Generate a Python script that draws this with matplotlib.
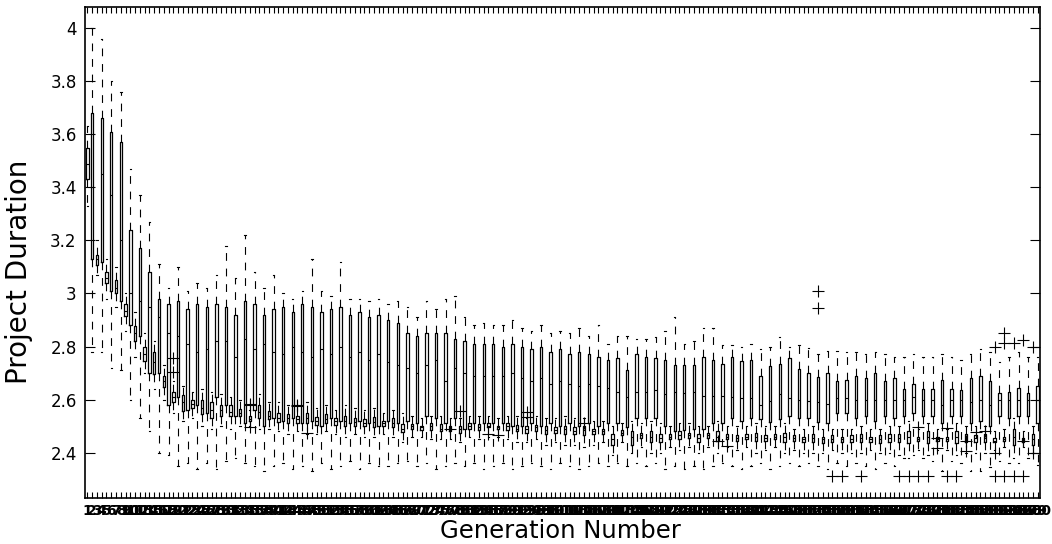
import matplotlib
matplotlib.use("Agg")
import matplotlib.pyplot as plt

# ── data: even generations (wide boxes) ─────────────────────────────────────
tall_q3 = [3.68, 3.66, 3.61, 3.57, 3.24, 3.17, 3.08, 2.98, 2.96, 2.97,
           2.94, 2.96, 2.95, 2.96, 2.95, 2.92, 2.97, 2.96, 2.92, 2.94,
           2.95, 2.93, 2.96, 2.95, 2.93, 2.94, 2.95, 2.92, 2.93, 2.91,
           2.92, 2.90, 2.89, 2.85, 2.84, 2.85, 2.85, 2.85, 2.83, 2.82,
           2.81, 2.81, 2.81, 2.80, 2.81, 2.80, 2.79, 2.80, 2.78, 2.79,
           2.77, 2.78, 2.77, 2.76, 2.75, 2.755, 2.71, 2.77, 2.76, 2.755,
           2.75, 2.73, 2.73, 2.73, 2.76, 2.75, 2.735, 2.76, 2.745, 2.75,
           2.69, 2.725, 2.735, 2.755, 2.715, 2.70, 2.685, 2.70, 2.67, 2.675,
           2.69, 2.68, 2.70, 2.67, 2.68, 2.64, 2.66, 2.64, 2.64, 2.675,
           2.64, 2.635, 2.68, 2.69, 2.67, 2.625, 2.63, 2.645, 2.625, 2.65]
tall_med = [3.40, 3.45, 3.37, 3.20, 3.00, 2.97, 2.95, 2.91, 2.85, 2.84,
            2.81, 2.78, 2.79, 2.82, 2.82, 2.76, 2.83, 2.79, 2.81, 2.78,
            2.77, 2.80, 2.78, 2.76, 2.79, 2.77, 2.80, 2.76, 2.78, 2.75,
            2.77, 2.74, 2.73, 2.72, 2.70, 2.73, 2.75, 2.67, 2.72, 2.70,
            2.69, 2.69, 2.69, 2.69, 2.70, 2.68, 2.67, 2.68, 2.66, 2.67,
            2.66, 2.65, 2.66, 2.65, 2.645, 2.63, 2.61, 2.63, 2.63, 2.635,
            2.62, 2.63, 2.625, 2.63, 2.615, 2.615, 2.615, 2.61, 2.605, 2.605,
            2.58, 2.595, 2.62, 2.605, 2.60, 2.595, 2.59, 2.585, 2.605, 2.605,
            2.60, 2.60, 2.60, 2.60, 2.60, 2.60, 2.61, 2.60, 2.60, 2.58,
            2.60, 2.60, 2.59, 2.60, 2.58, 2.60, 2.60, 2.60, 2.60, 2.60]
tall_q1 = [3.13, 3.12, 3.01, 2.97, 2.88, 2.84, 2.70, 2.70, 2.58, 2.61,
           2.56, 2.58, 2.55, 2.61, 2.58, 2.54, 2.51, 2.56, 2.50, 2.53,
           2.52, 2.53, 2.51, 2.52, 2.50, 2.53, 2.52, 2.51, 2.52, 2.51,
           2.50, 2.52, 2.51, 2.52, 2.51, 2.54, 2.53, 2.51, 2.53, 2.49,
           2.51, 2.51, 2.51, 2.51, 2.50, 2.50, 2.51, 2.50, 2.51, 2.50,
           2.51, 2.50, 2.51, 2.50, 2.51, 2.51, 2.495, 2.53, 2.53, 2.53,
           2.50, 2.48, 2.485, 2.49, 2.49, 2.51, 2.51, 2.53, 2.52, 2.53,
           2.525, 2.515, 2.525, 2.54, 2.53, 2.53, 2.515, 2.51, 2.55, 2.55,
           2.53, 2.54, 2.52, 2.54, 2.53, 2.54, 2.55, 2.54, 2.54, 2.51,
           2.54, 2.54, 2.51, 2.52, 2.50, 2.54, 2.53, 2.54, 2.54, 2.51]
tall_hi = [4.00, 3.96, 3.80, 3.76, 3.47, 3.37, 3.27, 3.11, 3.02, 3.10,
           3.01, 3.04, 3.02, 3.07, 3.18, 3.06, 3.22, 3.08, 3.02, 3.07,
           3.00, 2.98, 3.01, 3.13, 3.01, 2.99, 3.12, 2.98, 2.98, 2.97,
           2.98, 2.96, 2.97, 2.95, 2.91, 2.97, 2.94, 2.98, 2.99, 2.91,
           2.88, 2.89, 2.88, 2.88, 2.90, 2.87, 2.86, 2.88, 2.85, 2.86,
           2.85, 2.87, 2.84, 2.88, 2.81, 2.84, 2.84, 2.83, 2.83, 2.835,
           2.86, 2.91, 2.81, 2.82, 2.87, 2.87, 2.805, 2.805, 2.80, 2.81,
           2.79, 2.80, 2.835, 2.80, 2.805, 2.795, 2.77, 2.785, 2.785, 2.78,
           2.78, 2.77, 2.78, 2.77, 2.76, 2.76, 2.77, 2.76, 2.76, 2.77,
           2.76, 2.75, 2.77, 2.79, 2.78, 2.74, 2.76, 2.78, 2.76, 2.76]
tall_lo = [2.78, 2.78, 2.72, 2.71, 2.60, 2.53, 2.48, 2.40, 2.39, 2.35,
           2.36, 2.34, 2.36, 2.34, 2.37, 2.38, 2.36, 2.35, 2.33, 2.35,
           2.36, 2.34, 2.35, 2.33, 2.36, 2.34, 2.35, 2.37, 2.34, 2.36,
           2.35, 2.35, 2.36, 2.37, 2.35, 2.36, 2.34, 2.35, 2.36, 2.35,
           2.36, 2.34, 2.35, 2.36, 2.34, 2.35, 2.36, 2.35, 2.34, 2.36,
           2.35, 2.34, 2.35, 2.36, 2.35, 2.36, 2.35, 2.36, 2.35, 2.36,
           2.34, 2.35, 2.34, 2.35, 2.34, 2.35, 2.36, 2.35, 2.34, 2.35,
           2.36, 2.34, 2.35, 2.36, 2.35, 2.36, 2.35, 2.34, 2.36, 2.35,
           2.36, 2.35, 2.34, 2.36, 2.35, 2.38, 2.39, 2.38, 2.37, 2.33,
           2.37, 2.36, 2.33, 2.33, 2.345, 2.37, 2.36, 2.36, 2.38, 2.355]

# ── data: odd generations (narrow boxes) ────────────────────────────────────
small_q3 = [3.55, 3.146, 3.08, 3.05, 2.96, 2.877, 2.80, 2.778, 2.69, 2.63,
            2.616, 2.60, 2.60, 2.59, 2.58, 2.578, 2.563, 2.538, 2.58, 2.556,
            2.55, 2.545, 2.54, 2.55, 2.535, 2.545, 2.53, 2.54, 2.53, 2.525,
            2.535, 2.52, 2.53, 2.507, 2.507, 2.50, 2.51, 2.507, 2.50, 2.50,
            2.51, 2.507, 2.51, 2.50, 2.51, 2.505, 2.50, 2.505, 2.50, 2.495,
            2.50, 2.495, 2.50, 2.49, 2.488, 2.47, 2.485, 2.48, 2.475, 2.48,
            2.47, 2.47, 2.48, 2.475, 2.47, 2.475, 2.48, 2.47, 2.465, 2.47,
            2.475, 2.465, 2.47, 2.475, 2.465, 2.46, 2.47, 2.46, 2.465, 2.46,
            2.465, 2.47, 2.46, 2.465, 2.47, 2.47, 2.482, 2.46, 2.48, 2.46,
            2.46, 2.48, 2.47, 2.465, 2.47, 2.455, 2.46, 2.49, 2.455, 2.47]
small_med = [3.49, 3.13, 3.06, 3.02, 2.935, 2.85, 2.77, 2.74, 2.67, 2.61,
             2.59, 2.585, 2.57, 2.56, 2.56, 2.555, 2.55, 2.528, 2.555, 2.54,
             2.53, 2.53, 2.525, 2.53, 2.52, 2.525, 2.52, 2.52, 2.515, 2.51,
             2.515, 2.51, 2.51, 2.49, 2.50, 2.495, 2.50, 2.49, 2.495, 2.49,
             2.50, 2.495, 2.50, 2.495, 2.50, 2.49, 2.49, 2.495, 2.485, 2.485,
             2.49, 2.48, 2.485, 2.48, 2.48, 2.45, 2.475, 2.46, 2.465, 2.46,
             2.455, 2.46, 2.465, 2.465, 2.455, 2.465, 2.46, 2.46, 2.455, 2.46,
             2.46, 2.455, 2.46, 2.46, 2.455, 2.45, 2.455, 2.45, 2.45, 2.45,
             2.45, 2.455, 2.45, 2.45, 2.455, 2.455, 2.46, 2.45, 2.46, 2.45,
             2.45, 2.46, 2.45, 2.455, 2.455, 2.445, 2.45, 2.46, 2.45, 2.45]
small_q1 = [3.43, 3.109, 3.04, 3.00, 2.915, 2.82, 2.745, 2.695, 2.646, 2.59,
            2.557, 2.57, 2.545, 2.53, 2.54, 2.537, 2.538, 2.52, 2.532, 2.526,
            2.515, 2.51, 2.51, 2.51, 2.505, 2.51, 2.505, 2.50, 2.50, 2.50,
            2.495, 2.50, 2.495, 2.477, 2.49, 2.486, 2.486, 2.48, 2.48, 2.475,
            2.49, 2.486, 2.495, 2.49, 2.486, 2.48, 2.475, 2.48, 2.47, 2.475,
            2.47, 2.47, 2.465, 2.47, 2.47, 2.43, 2.465, 2.43, 2.455, 2.44,
            2.44, 2.45, 2.45, 2.455, 2.44, 2.455, 2.445, 2.45, 2.445, 2.45,
            2.445, 2.445, 2.45, 2.44, 2.445, 2.44, 2.44, 2.435, 2.44, 2.44,
            2.44, 2.44, 2.44, 2.435, 2.44, 2.44, 2.435, 2.445, 2.435, 2.445,
            2.445, 2.435, 2.44, 2.44, 2.44, 2.44, 2.445, 2.43, 2.44, 2.43]
small_hi = [3.63, 3.20, 3.13, 3.10, 3.00, 2.93, 2.85, 2.82, 2.73, 2.67,
            2.65, 2.63, 2.64, 2.63, 2.62, 2.61, 2.60, 2.56, 2.62, 2.59,
            2.59, 2.58, 2.58, 2.59, 2.57, 2.58, 2.56, 2.58, 2.57, 2.56,
            2.57, 2.55, 2.56, 2.55, 2.54, 2.53, 2.54, 2.54, 2.53, 2.53,
            2.54, 2.54, 2.54, 2.53, 2.54, 2.54, 2.53, 2.54, 2.53, 2.53,
            2.54, 2.53, 2.53, 2.52, 2.52, 2.50, 2.51, 2.52, 2.51, 2.52,
            2.51, 2.50, 2.51, 2.51, 2.50, 2.50, 2.52, 2.50, 2.50, 2.50,
            2.51, 2.50, 2.50, 2.51, 2.49, 2.49, 2.50, 2.49, 2.49, 2.49,
            2.49, 2.50, 2.49, 2.49, 2.50, 2.50, 2.52, 2.49, 2.51, 2.49,
            2.49, 2.51, 2.50, 2.50, 2.50, 2.48, 2.49, 2.53, 2.48, 2.50]
small_lo = [3.33, 3.07, 2.98, 2.95, 2.86, 2.76, 2.70, 2.64, 2.60, 2.55,
            2.52, 2.53, 2.50, 2.49, 2.50, 2.49, 2.50, 2.50, 2.49, 2.49,
            2.48, 2.47, 2.48, 2.47, 2.47, 2.48, 2.47, 2.46, 2.47, 2.46,
            2.46, 2.47, 2.46, 2.44, 2.46, 2.46, 2.45, 2.45, 2.45, 2.44,
            2.46, 2.45, 2.46, 2.46, 2.45, 2.44, 2.44, 2.45, 2.43, 2.44,
            2.43, 2.43, 2.42, 2.43, 2.44, 2.39, 2.44, 2.40, 2.42, 2.40,
            2.40, 2.42, 2.41, 2.42, 2.40, 2.42, 2.40, 2.42, 2.41, 2.42,
            2.40, 2.41, 2.42, 2.40, 2.41, 2.40, 2.40, 2.40, 2.41, 2.40,
            2.40, 2.40, 2.41, 2.40, 2.40, 2.39, 2.38, 2.41, 2.39, 2.41,
            2.41, 2.39, 2.40, 2.40, 2.40, 2.41, 2.42, 2.38, 2.42, 2.40]

# outliers: (generation, value)
outlier_gen = [19, 19, 35, 35, 35, 45, 45, 47, 77, 79, 85, 87, 93, 93, 105,
               133, 135, 154, 154,
               157, 159, 163, 171, 173, 175, 177, 181, 183, 191, 193, 195, 197,
               191, 193, 193, 195, 197, 199,
               175, 179, 179, 181, 185, 185, 187, 189, 191, 197, 199]
outlier_val = [2.755, 2.705, 2.585, 2.578, 2.495, 2.58, 2.575, 2.475, 2.49, 2.557,
               2.47, 2.465, 2.555, 2.535, 2.51,
               2.445, 2.425, 3.01, 2.945,
               2.313, 2.313, 2.313, 2.313, 2.313, 2.313, 2.313, 2.313, 2.313,
               2.313, 2.313, 2.313, 2.313,
               2.80, 2.852, 2.815, 2.814, 2.824, 2.80,
               2.498, 2.457, 2.416, 2.494, 2.407, 2.444, 2.476, 2.482, 2.40,
               2.444, 2.397]

n_gen = 200
gens = list(range(1, n_gen + 1))

stats = []
for g in gens:
    i = (g - 1) // 2
    if g % 2 == 0:
        q3, med, q1, hi, lo = tall_q3[i], tall_med[i], tall_q1[i], tall_hi[i], tall_lo[i]
    else:
        q3, med, q1, hi, lo = small_q3[i], small_med[i], small_q1[i], small_hi[i], small_lo[i]
    fl = [v for gg, v in zip(outlier_gen, outlier_val) if gg == g]
    stats.append(dict(med=med, q1=q1, q3=q3, whislo=lo, whishi=hi, fliers=fl))

fig = plt.figure(figsize=(10.52, 5.44), dpi=100)
ax = fig.add_axes([85 / 1052, 46 / 544, 955 / 1052, 491 / 544])

ax.bxp(
    stats,
    positions=gens,
    widths=0.5,
    capwidths=0.3,
    manage_ticks=False,
    boxprops=dict(color="black", linewidth=0.9),
    whiskerprops=dict(color="black", linewidth=0.8, linestyle=(0, (7, 7))),
    capprops=dict(color="black", linewidth=0.8),
    medianprops=dict(color="black", linewidth=0.8),
    flierprops=dict(marker="+", markersize=8, markeredgecolor="black",
                    markeredgewidth=0.8, linestyle="none"),
)

ax.set_xlim(0.5, n_gen + 0.5)
ax.set_ylim(2.229, 4.08)

ax.set_xticks(gens)
ax.set_xticklabels([str(g) for g in gens], fontsize=10, family="DejaVu Sans",
                   fontweight="bold")
ax.set_yticks([2.4, 2.6, 2.8, 3.0, 3.2, 3.4, 3.6, 3.8, 4.0])
ax.set_yticklabels(["2.4", "2.6", "2.8", "3", "3.2", "3.4", "3.6", "3.8", "4"],
                   fontsize=12, family="DejaVu Sans")
ax.tick_params(axis="x", direction="in", top=True, length=4, width=0.8, pad=4)
ax.tick_params(axis="y", direction="in", right=True, length=7, width=0.8, pad=6)
for sp in ax.spines.values():
    sp.set_linewidth(1.2)

ax.set_xlabel("Generation Number", fontsize=17.5, family="DejaVu Sans")
ax.xaxis.set_label_coords(0.498, -0.043)
ax.set_ylabel("Project Duration", fontsize=20, family="DejaVu Sans")
ax.yaxis.set_label_coords(-0.054, 0.46)

fig.savefig("out.png", dpi=100)
